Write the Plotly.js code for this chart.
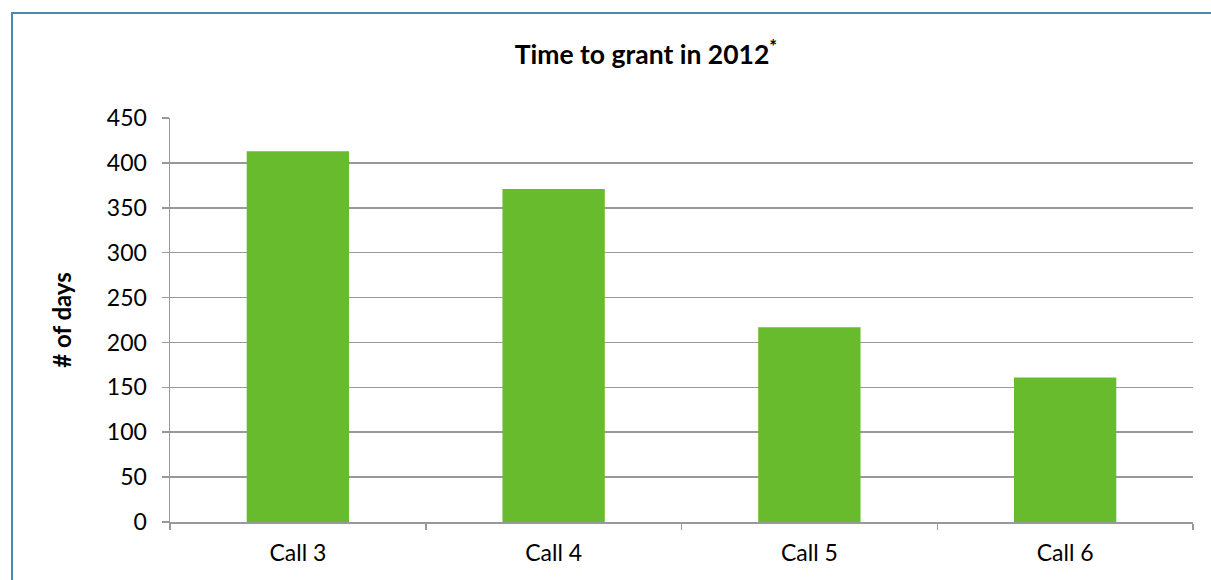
<!DOCTYPE html>
<html>
<head>
<meta charset="utf-8">
<script src="https://cdn.plot.ly/plotly-3.0.1.min.js"></script>
<style>
  html, body { margin: 0; padding: 0; background: #fff; overflow: hidden; }
  #chart { width: 1211px; height: 580px; position: absolute; left: 0; top: 0; }
  #frame { position: absolute; left: 11px; top: 12px; width: 1300px; height: 700px;
           border: 2px solid #4a8ab0; pointer-events: none; }
</style>
</head>
<body>
<div id="chart"></div>
<div id="frame"></div>
<script>
const categories = ["Call 3", "Call 4", "Call 5", "Call 6"];
const days = [413, 371, 217, 161];
const yTicks = [0, 50, 100, 150, 200, 250, 300, 350, 400, 450];

const font = "Lato, 'Open Sans', 'Liberation Sans', sans-serif";

Plotly.newPlot("chart", [{
  type: "bar",
  x: categories,
  y: days,
  marker: { color: "#67bb2d" },
  hoverinfo: "x+y"
}], {
  width: 1211,
  height: 580,
  margin: { l: 170, r: 18, t: 118, b: 58 },
  paper_bgcolor: "rgba(0,0,0,0)",
  plot_bgcolor: "#fff",
  bargap: 0.6,
  showlegend: false,
  title: {
    text: "<b>Time to grant in 2012<sup>*</sup></b>",
    font: { family: font, size: 26.5, color: "#000" },
    xref: "container", x: 646 / 1211, xanchor: "center",
    yref: "container", y: 1 - 55 / 580, yanchor: "middle"
  },
  xaxis: {
    type: "category",
    showline: true, linecolor: "#999", linewidth: 1.5,
    ticks: "outside", tickson: "boundaries", ticklen: 6, tickcolor: "#999", tickwidth: 1.5,
    ticklabelstandoff: 10,
    tickfont: { family: font, size: 23, color: "#000" },
    showgrid: false, zeroline: false
  },
  yaxis: {
    range: [0, 450],
    tickvals: yTicks,
    ticktext: yTicks.map(String),
    showline: true, linecolor: "#999", linewidth: 1.5,
    ticks: "outside", ticklen: 7, tickcolor: "#999", tickwidth: 1.5,
    ticklabelstandoff: 10,
    tickfont: { family: font, size: 23, color: "#000" },
    showgrid: true, gridcolor: "#999", gridwidth: 1.5,
    zeroline: false,
    title: { text: "<b># of days</b>", font: { family: font, size: 24, color: "#000" }, standoff: 28 }
  }
}, { displayModeBar: false, staticPlot: true });
</script>
</body>
</html>
